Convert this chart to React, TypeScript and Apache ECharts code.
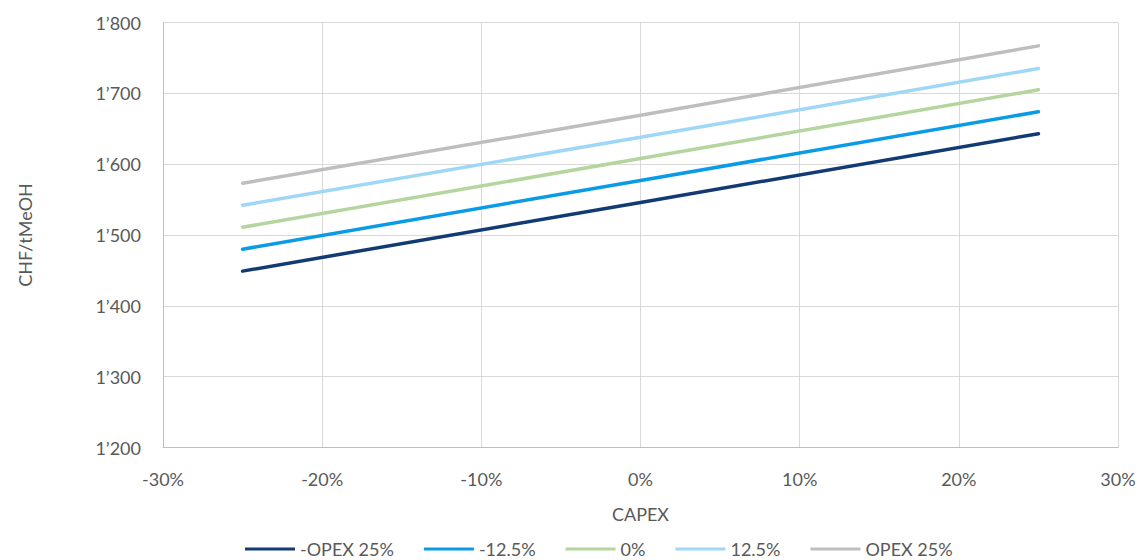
import React, { useEffect, useRef } from "react";
import * as echarts from "echarts";

// CAPEX variation (%) at which each scenario is evaluated
const capexSteps = [-25, 0, 25];

// Production cost (CHF per tonne of methanol) for each OPEX scenario
const seriesNames = ["-OPEX 25%", "-12.5%", "0%", "12.5%", "OPEX 25%"];
const opexMinus25 = [1449, 1546, 1643];
const opexMinus12 = [1480, 1577, 1674];
const opexZero = [1511, 1608, 1705];
const opexPlus12 = [1542, 1638, 1735];
const opexPlus25 = [1573, 1669, 1767];
const seriesColors = ["#123B73", "#0A9BE6", "#B4D59E", "#9FD7F7", "#BEBEBE"];

const fmtThousands = (v: number) => {
  const s = Math.round(v).toString();
  return s.length > 3 ? s.slice(0, -3) + "\u2019" + s.slice(-3) : s;
};

export default function App() {
  const ref = useRef<HTMLDivElement>(null);

  useEffect(() => {
    if (!ref.current) return;
    const chart = echarts.init(ref.current, undefined, { renderer: "svg" });
    const values = [opexMinus25, opexMinus12, opexZero, opexPlus12, opexPlus25];
    const font = "Lato, 'Open Sans', sans-serif";
    const textColor = "#595959";

    chart.setOption({
      animation: false,
      grid: { left: 145, right: 27, top: 14.5, bottom: 112.5, containLabel: false },
      xAxis: {
        type: "value",
        min: -30,
        max: 30,
        interval: 10,
        name: "CAPEX",
        nameLocation: "middle",
        nameGap: 57,
        nameTextStyle: { fontFamily: font, fontSize: 18, color: textColor },
        axisLine: { show: true, onZero: false, lineStyle: { color: "#BFBFBF", width: 1 } },
        axisTick: { show: false },
        axisLabel: {
          formatter: (v: number) => `${v}%`,
          fontFamily: font,
          fontSize: 18,
          color: textColor,
          margin: 22,
        },
        splitLine: { show: true, lineStyle: { color: "#D9D9D9", width: 1 } },
      },
      yAxis: {
        type: "value",
        min: 1200,
        max: 1800,
        interval: 100,
        name: "CHF/tMeOH",
        nameLocation: "middle",
        nameGap: 129,
        nameTextStyle: { fontFamily: font, fontSize: 18, color: textColor },
        axisLine: { show: true, onZero: false, lineStyle: { color: "#BFBFBF", width: 1 } },
        axisTick: { show: false },
        axisLabel: {
          formatter: fmtThousands,
          fontFamily: font,
          fontSize: 18,
          color: textColor,
          margin: 22,
        },
        splitLine: { show: true, lineStyle: { color: "#D9D9D9", width: 1 } },
      },
      legend: {
        bottom: -3,
        left: 232,
        icon: "rect",
        itemWidth: 50,
        itemHeight: 3,
        itemGap: 30,
        textStyle: { fontFamily: font, fontSize: 18, color: textColor },
        data: seriesNames,
      },
      series: seriesNames.map((name, i) => ({
        name,
        type: "line",
        data: capexSteps.map((x, j) => [x, values[i][j]]),
        showSymbol: false,
        symbol: "none",
        lineStyle: { color: seriesColors[i], width: 3.5, cap: "round" },
        itemStyle: { color: seriesColors[i] },
      })),
    });

    return () => chart.dispose();
  }, []);

  return <div ref={ref} style={{ width: 1137, height: 552 }} />;
}
